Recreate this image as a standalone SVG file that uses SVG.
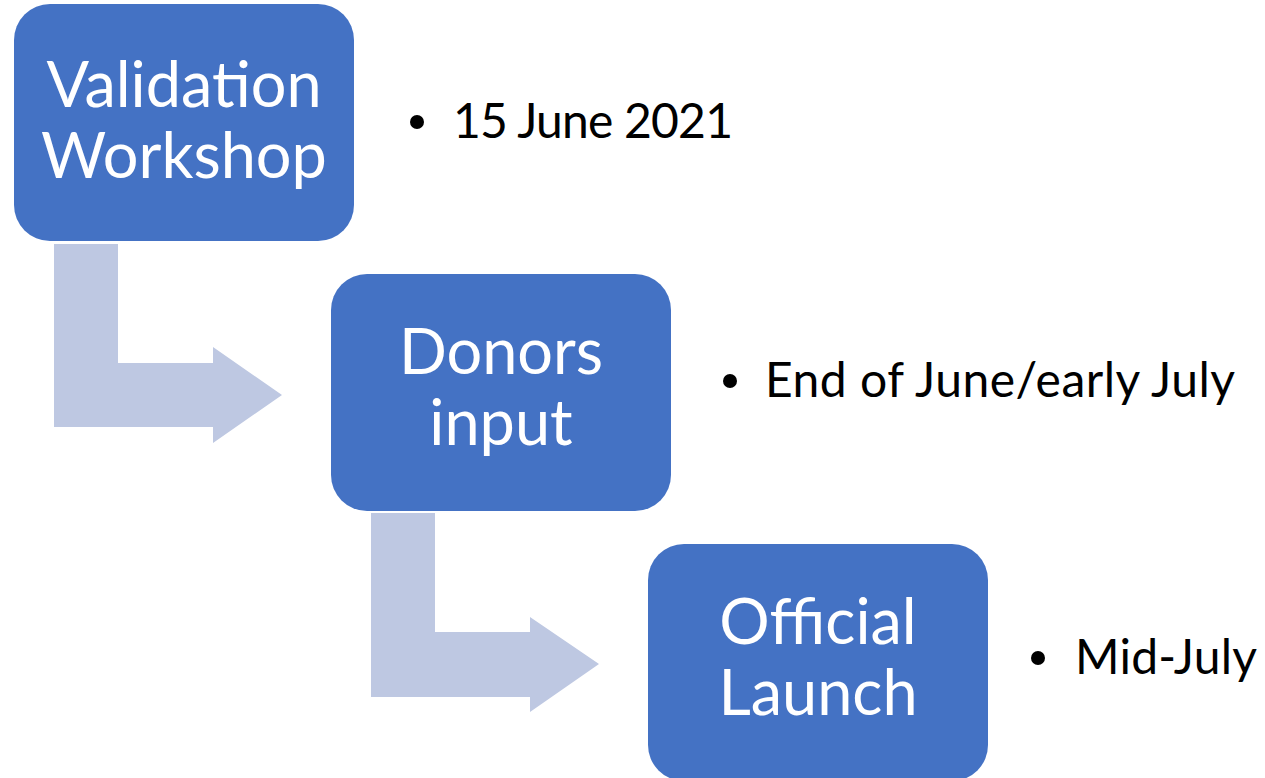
<svg xmlns="http://www.w3.org/2000/svg" width="1265" height="778" viewBox="0 0 1265 778">
<style>
.box{fill:#4472C4}
.arr{fill:#BEC8E2}
.bt{font-family:Lato,"Open Sans",sans-serif;font-size:63px;fill:#FFFFFF;text-anchor:middle}
.rt{font-family:Lato,"Open Sans",sans-serif;font-size:48px;fill:#000000}
.dot{fill:#000000}
</style>
<rect width="1265" height="778" fill="#FFFFFF"/>
<g id="connectors">
<polygon class="arr" points="54,244 118,244 118,363 213,363 213,347 282,395 213,443 213,427 54,427"/>
<polygon class="arr" points="371,513 435,513 435,632 530,632 530,617 599,664 530,712 530,697 371,697"/>
</g>
<g id="node-validation">
<rect class="box" x="14" y="4" width="340" height="237" rx="36"/>
<text class="bt" x="184" y="107">Validation</text>
<text class="bt" x="184" y="178">Workshop</text>
</g>
<g id="node-donors">
<rect class="box" x="331" y="274" width="340" height="237" rx="36"/>
<text class="bt" x="501" y="374">Donors</text>
<text class="bt" x="501" y="445">input</text>
</g>
<g id="node-launch">
<rect class="box" x="648" y="544" width="340" height="237" rx="36"/>
<text class="bt" x="818" y="644">Official</text>
<text class="bt" x="818" y="715">Launch</text>
</g>
<g id="note-1">
<circle class="dot" cx="417" cy="122" r="7"/>
<text class="rt" x="453" y="138" textLength="280">15 June 2021</text>
</g>
<g id="note-2">
<circle class="dot" cx="730" cy="381" r="7"/>
<text class="rt" x="765" y="397" textLength="470">End of June/early July</text>
</g>
<g id="note-3">
<circle class="dot" cx="1038" cy="658" r="7"/>
<text class="rt" x="1075" y="674" textLength="182">Mid-July</text>
</g>
</svg>
